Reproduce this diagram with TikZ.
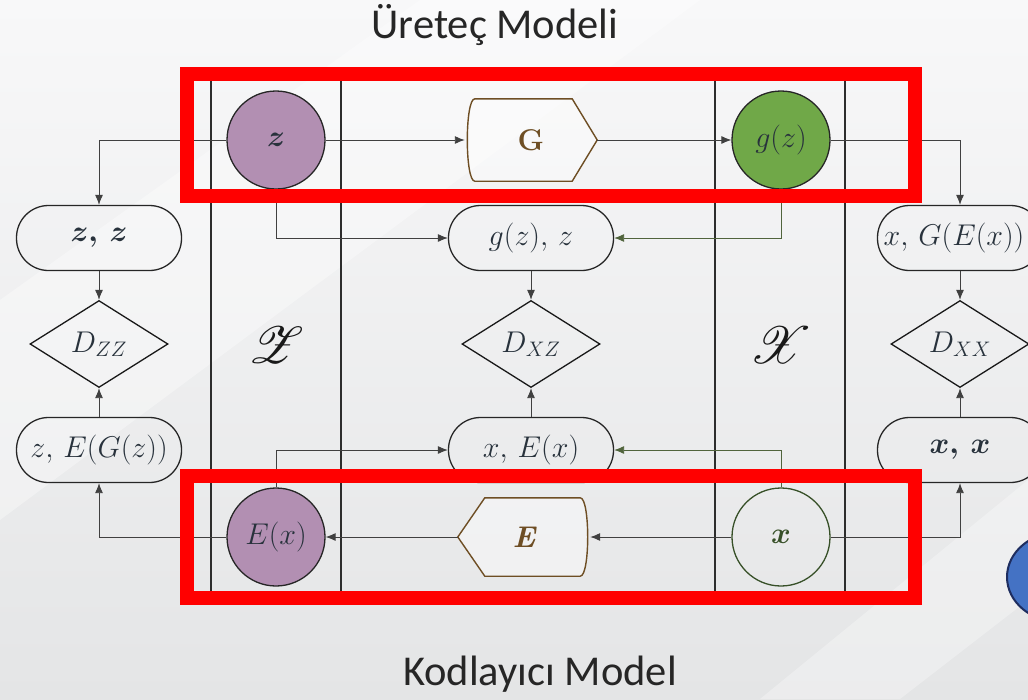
\RequirePackage{fix-cm}
\documentclass[tikz,border=0pt]{standalone}
\usepackage{amsmath}
\usepackage{fontspec}
\usepackage{mathrsfs}
\usetikzlibrary{arrows.meta,shapes.geometric}
\newfontfamily\titlefont{Carlito}
\definecolor{purp}{RGB}{178,143,178}
\definecolor{grn}{RGB}{112,168,72}
\definecolor{dgrn}{RGB}{55,80,40}
\definecolor{lgrn}{RGB}{80,100,60}
\definecolor{brn}{RGB}{110,78,36}
\definecolor{lanec}{RGB}{45,45,45}
\definecolor{txt}{RGB}{40,50,60}
\definecolor{bgtop}{RGB}{248,248,249}
\definecolor{bgbot}{RGB}{228,229,230}
\definecolor{blu}{RGB}{68,114,196}
\definecolor{dblu}{RGB}{30,45,95}
\tikzset{
  every node/.style={font=\fontsize{30}{34}\selectfont, text=txt},
  term/.style={draw=black!85, line width=1.3pt, rounded corners=32pt, minimum width=165pt, minimum height=65pt, inner sep=0pt},
  disc/.style={diamond, draw=black!90, line width=1.3pt, minimum width=138pt, minimum height=87pt, inner sep=0pt, aspect=1.6},
  ball/.style={circle, draw=black!85, line width=1.3pt, minimum size=98pt, inner sep=0pt},
  proc/.style={rectangle, minimum width=132pt, minimum height=82pt, inner sep=0pt},
  procline/.style={draw=brn, line width=1.4pt, fill=white, fill opacity=0.4},
  conn/.style={draw=black!75, line width=0.9pt, -{Latex[length=10pt,width=8pt]}},
  gconn/.style={conn, draw=lgrn},
  lane/.style={draw=lanec, line width=1.5pt},
  redbox/.style={draw=red, line width=14pt},
  lanelabel/.style={font=\fontsize{24.88}{26}\selectfont, scale=2.1, text=black!90},
  title/.style={font=\titlefont\fontsize{42.5}{48}\selectfont, text=black!85}
}
\begin{document}
\begin{tikzpicture}[x=1pt,y=-1pt]
\clip (0,0) rectangle (1028,699);
\shade[top color=bgtop, bottom color=bgbot] (0,0) rectangle (1028,699);
\fill[white, opacity=0.35] (0,300) -- (420,0) -- (700,0) -- (0,520) -- cycle;
\fill[white, opacity=0.3] (760,699) -- (1028,480) -- (1028,600) -- (900,699) -- cycle;

% lanes
\draw[lane] (211,80) -- (211,592);
\draw[lane] (341,80) -- (341,592);
\draw[lane] (715,80) -- (715,592);
\draw[lane] (845,80) -- (845,592);
\node[lanelabel] (Zl) at (276,345) {$\mathscr{Z}$};
\node[lanelabel] (Xl) at (781,345) {$\mathscr{X}$};

% top row
\node[ball, fill=purp] (z) at (276,140) {$\boldsymbol{z}$};
\node[proc] (G) at (531,140) {};
\draw[procline]
  ([xshift=10pt]G.north west) -- ([xshift=-25pt]G.north east) -- (G.east)
  -- ([xshift=-25pt]G.south east) -- ([xshift=10pt]G.south west)
  .. controls (G.south west) and (G.north west) .. cycle;
\node[text=brn] at (G) {\bfseries G};
\node[ball, fill=grn] (gz) at (781,140) {$g(z)$};

% middle rows
\node[term] (zz) at (99,238) {$\boldsymbol{z,\,z}$};
\node[term] (gzz) at (531,238) {$g(z),\,z$};
\node[term] (xgex) at (960,238) {\hspace*{-12pt}$x,\,G(E(x))$};
\node[disc] (dzz) at (99,344) {$D_{ZZ}$};
\node[disc] (dxz) at (531,344) {$D_{XZ}$};
\node[disc] (dxx) at (960,344) {$D_{XX}$};
\node[term] (zegz) at (99,450) {$z,\,E(G(z))$};
\node[term] (xex) at (531,450) {$x,\,E(x)$};
\node[term] (xx) at (960,450) {$\boldsymbol{x,\,x}$};

% bottom row
\node[ball, fill=purp] (ex) at (276,537) {$E(x)$};
\node[proc, minimum height=78pt] (E) at (524,537) {};
\draw[procline]
  ([xshift=-10pt]E.north east) -- ([xshift=27pt]E.north west) -- (E.west)
  -- ([xshift=27pt]E.south west) -- ([xshift=-10pt]E.south east)
  .. controls (E.south east) and (E.north east) .. cycle;
\node[text=brn] at (E) {\bfseries\itshape E};
\node[ball, draw=dgrn] (x) at (781,537) {\color{dgrn}$\boldsymbol{x}$};

% connectors top
\draw[conn] (z.east) -- (G.west);
\draw[conn] (G.east) -- (gz.west);
\draw[conn] (z.west) -| (zz.north);
\draw[conn] (z.south) |- (gzz.west);
\draw[gconn] (gz.south) |- (gzz.east);
\draw[conn] (gz.east) -| (xgex.north);
\draw[conn] (zz.south) -- (dzz.north);
\draw[conn] (gzz.south) -- (dxz.north);
\draw[conn] (xgex.south) -- (dxx.north);
\draw[conn] (zegz.north) -- (dzz.south);
\draw[conn] (xex.north) -- (dxz.south);
\draw[conn] (xx.north) -- (dxx.south);

% connectors bottom
\draw[conn] (x.west) -- (E.east);
\draw[conn] (E.west) -- (ex.east);
\draw[conn] (ex.west) -| (zegz.south);
\draw[conn] (ex.north) |- (xex.west);
\draw[gconn] (x.north) |- (xex.east);
\draw[conn] (x.east) -| (xx.south);

% red frames
\draw[redbox] (187,74) rectangle (915,196);
\draw[redbox] (187,476) rectangle (915,598);

% blue blob
\draw[draw=dblu, line width=2pt, fill=blu] (1060,577) ellipse [x radius=53, y radius=45];

% titles
\node[title] (t1) at (495,25) {Üreteç Modeli};
\node[title] (t2) at (540,674) {Kodlayıcı Model};
\end{tikzpicture}
\end{document}
